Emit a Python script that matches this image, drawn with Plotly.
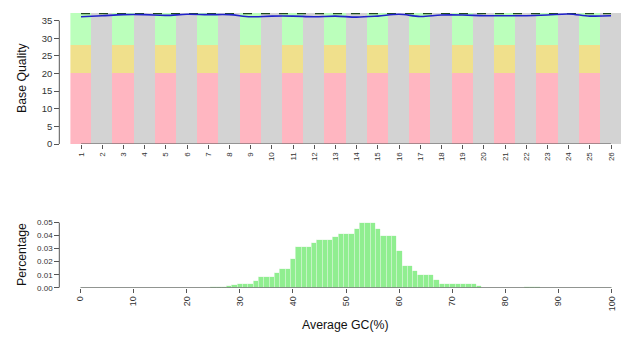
import plotly.graph_objects as go

# ---- per-position base quality ----
positions = list(range(1, 27))
mean_quality = [36.1, 36.4, 36.7, 36.7, 36.5, 36.8, 36.7, 36.7, 36.1, 36.3,
                36.3, 36.1, 36.3, 36.0, 36.3, 36.8, 36.2, 36.6, 36.6, 36.4,
                36.4, 36.4, 36.6, 36.9, 36.3, 36.4]
upper_quality = [37, 37, 37, 37, 37, 37, 37, 37, 37, 37, 37, 37, 37,
                 37, 37, 37, 37, 37, 37, 37, 37, 37, 37, 37, 37, 37]
# quality bands: poor / fair / good
band_low = 20
band_mid = 28
band_top = 37
quality_ticks = [0, 5, 10, 15, 20, 25, 30, 35]

# ---- GC content distribution ----
gc_percent = list(range(0, 101))
gc_fraction = (
    [0.0] * 25
    + [0.0005, 0.0007, 0.0008, 0.001, 0.0018, 0.0025, 0.003, 0.003, 0.005,
       0.008, 0.008, 0.008, 0.011, 0.014, 0.014, 0.022, 0.031, 0.031, 0.031,
       0.034, 0.037, 0.037, 0.037, 0.039, 0.041, 0.041, 0.041, 0.045, 0.050,
       0.050, 0.050, 0.045, 0.040, 0.040, 0.040, 0.028, 0.017, 0.017, 0.013,
       0.010, 0.010, 0.010, 0.006, 0.0028, 0.0028, 0.0028, 0.0028, 0.0028,
       0.0028, 0.0028, 0.0013]
    + [0.0] * 8
    + [0.0008, 0.0008, 0.0005]
    + [0.0] * 14
)
gc_ticks = [0, 10, 20, 30, 40, 50, 60, 70, 80, 90, 100]
frac_ticks = [0.0, 0.01, 0.02, 0.03, 0.04, 0.05]

W, H = 643, 342
FONT = "Liberation Sans, Arial, sans-serif"
AXIS_GREY = "#555555"

def px_x(p):
    return p / W

def px_y(p):
    return (H - p) / H

odd_pos = [p for p in positions if p % 2 == 1]
even_pos = [p for p in positions if p % 2 == 0]

fig = go.Figure()

# background columns: coloured bands on odd positions, grey on even ones
fig.add_trace(go.Bar(x=odd_pos, y=[band_low] * len(odd_pos), width=1,
                     marker=dict(color="#FFB6C1", line=dict(width=0)),
                     xaxis="x", yaxis="y", hoverinfo="skip"))
fig.add_trace(go.Bar(x=odd_pos, y=[band_mid - band_low] * len(odd_pos), width=1,
                     marker=dict(color="#F0E08C", line=dict(width=0)),
                     xaxis="x", yaxis="y", hoverinfo="skip"))
fig.add_trace(go.Bar(x=odd_pos, y=[band_top - band_mid] * len(odd_pos), width=1,
                     marker=dict(color="#BBFFBB", line=dict(width=0)),
                     xaxis="x", yaxis="y", hoverinfo="skip"))
fig.add_trace(go.Bar(x=even_pos, y=[band_top] * len(even_pos), width=1,
                     marker=dict(color="#D3D3D3", line=dict(width=0)),
                     xaxis="x", yaxis="y", hoverinfo="skip"))

# upper quartile (dashed) and mean quality line
fig.add_trace(go.Scatter(x=positions, y=upper_quality, mode="lines",
                         line=dict(color="#1E4A1E", width=1.3, dash="dash"),
                         xaxis="x", yaxis="y"))
fig.add_trace(go.Scatter(x=positions, y=mean_quality, mode="lines",
                         line=dict(color="#2222CC", width=1.6, shape="spline"),
                         xaxis="x", yaxis="y"))

# GC histogram
fig.add_trace(go.Bar(x=gc_percent, y=gc_fraction, width=1,
                     marker=dict(color="#90EE90", line=dict(color="#E8F8E8", width=0.6)),
                     xaxis="x2", yaxis="y2"))

# axis lines spanning first to last tick
shapes = [
    dict(type="line", xref="x", yref="y", x0=positions[0], x1=positions[-1],
         y0=0, y1=0, line=dict(color=AXIS_GREY, width=1)),
    dict(type="line", xref="paper", yref="y", x0=px_x(59.3), x1=px_x(59.3),
         y0=quality_ticks[0], y1=quality_ticks[-1], line=dict(color=AXIS_GREY, width=1)),
    dict(type="line", xref="x2", yref="y2", x0=gc_ticks[0], x1=gc_ticks[-1],
         y0=0, y1=0, line=dict(color=AXIS_GREY, width=1)),
    dict(type="line", xref="paper", yref="y2", x0=px_x(59.3), x1=px_x(59.3),
         y0=frac_ticks[0], y1=frac_ticks[-1], line=dict(color=AXIS_GREY, width=1)),
]

title_font = dict(size=12.3, color="#111111", family=FONT)
annotations = [
    dict(text="Base Quality", x=px_x(22), y=px_y(78), xref="paper", yref="paper",
         xanchor="center", yanchor="middle", textangle=-90, showarrow=False,
         font=title_font),
    dict(text="Percentage", x=px_x(22), y=px_y(255), xref="paper", yref="paper",
         xanchor="center", yanchor="middle", textangle=-90, showarrow=False,
         font=title_font),
    dict(text="Average GC(%)", x=px_x(345.5), y=px_y(325), xref="paper", yref="paper",
         xanchor="center", yanchor="middle", showarrow=False, font=title_font),
]

tick_common = dict(showgrid=False, zeroline=False, showline=False, ticks="outside",
                   tickcolor=AXIS_GREY, tickwidth=1, automargin=False)

fig.update_layout(
    width=W, height=H,
    margin=dict(l=0, r=0, t=0, b=0, autoexpand=False),
    paper_bgcolor="white", plot_bgcolor="white",
    barmode="stack", bargap=0,
    showlegend=False,
    font=dict(family=FONT, color="#333333"),
    shapes=shapes,
    annotations=annotations,
    xaxis=dict(domain=[px_x(70.4), px_x(621.6)], range=[0.5, 26.5], anchor="y",
               tickmode="array", tickvals=positions, ticktext=[str(p) for p in positions],
               tickangle=-90, ticklen=4, tickfont=dict(size=8, color="#333333"),
               **tick_common),
    yaxis=dict(domain=[px_y(144), px_y(12.2)], range=[0, 37.4], anchor="free",
               position=px_x(59.3), tickmode="array", tickvals=quality_ticks,
               ticklen=5, tickfont=dict(size=9.5, color="#333333"), **tick_common),
    xaxis2=dict(domain=[px_x(80.3), px_x(611.7)], range=[0, 100], anchor="y2",
                tickmode="array", tickvals=gc_ticks, tickangle=-90, ticklen=4,
                tickfont=dict(size=9, color="#333333"), **tick_common),
    yaxis2=dict(domain=[px_y(287.7), px_y(222.0)], range=[0, 0.0505], anchor="free",
                position=px_x(59.3), tickmode="array", tickvals=frac_ticks,
                tickformat=".2f", ticklen=5, tickfont=dict(size=8, color="#333333"),
                **tick_common),
)

fig.write_html("out.html")
